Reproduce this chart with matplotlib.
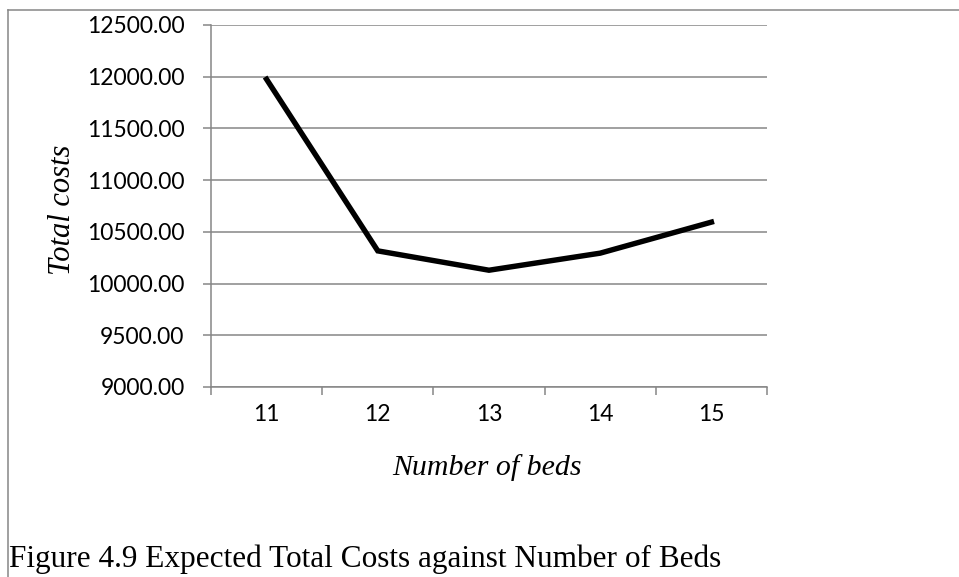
import matplotlib
matplotlib.use("Agg")
import matplotlib.pyplot as plt
from matplotlib.lines import Line2D
from matplotlib.ticker import FixedLocator, NullFormatter

beds = ["11", "12", "13", "14", "15"]
total_costs = [11975.0, 10316.0, 10129.0, 10294.0, 10594.0]
y_ticks = [9000, 9500, 10000, 10500, 11000, 11500, 12000, 12500]

grey = "#868686"
fig = plt.figure(figsize=(9.59, 5.77), dpi=100)
ax = fig.add_axes([0.2200, 0.3293, 0.5798, 0.6274])

x = list(range(len(beds)))
ax.plot(x, total_costs, color="black", lw=3.9, solid_joinstyle="miter", zorder=3)

ax.set_xlim(-0.5, len(beds) - 0.5)
ax.set_ylim(y_ticks[0], y_ticks[-1])
ax.set_yticks(y_ticks)
ax.set_yticklabels([f"{v:.2f}" for v in y_ticks])

# category labels sit between the boundary ticks
ax.xaxis.set_major_locator(FixedLocator([i - 0.5 for i in range(len(beds) + 1)]))
ax.xaxis.set_major_formatter(NullFormatter())
ax.xaxis.set_minor_locator(FixedLocator(x))
ax.set_xticklabels(beds, minor=True)
ax.tick_params(axis="x", which="minor", length=0, pad=12)
ax.tick_params(axis="x", which="major", length=6, width=1.1, color=grey)
ax.tick_params(axis="y", length=6, width=1.1, color=grey, pad=13)
for lbl in ax.get_yticklabels() + ax.get_xticklabels(minor=True):
    lbl.set_fontfamily("Lato")
    lbl.set_fontsize(16.5)

ax.yaxis.grid(True, color=grey, lw=1.1)
ax.set_axisbelow(True)
for s in ("top", "right"):
    ax.spines[s].set_visible(False)
for s in ("left", "bottom"):
    ax.spines[s].set_color(grey)
    ax.spines[s].set_linewidth(1.1)

serif = "Liberation Serif"
fig.text(0.0647, 0.636, "Total costs", rotation=90, ha="center", va="center",
         fontfamily=serif, fontstyle="italic", fontsize=22)
fig.text(0.5083, 0.1906, "Number of beds", ha="center", va="center",
         fontfamily=serif, fontstyle="italic", fontsize=21.5)
fig.text(0.0094, 0.0045, "Figure 4.9 Expected Total Costs against Number of Beds",
         ha="left", va="bottom", fontfamily=serif, fontsize=22.5)

# outer frame around the chart
fig.add_artist(Line2D([0.0083, 1.0], [0.9835, 0.9835], transform=fig.transFigure,
                      color=grey, lw=1.1))
fig.add_artist(Line2D([0.0083, 0.0083], [0.0, 0.9835], transform=fig.transFigure,
                      color=grey, lw=1.1))

fig.savefig("out.png", dpi=100)
